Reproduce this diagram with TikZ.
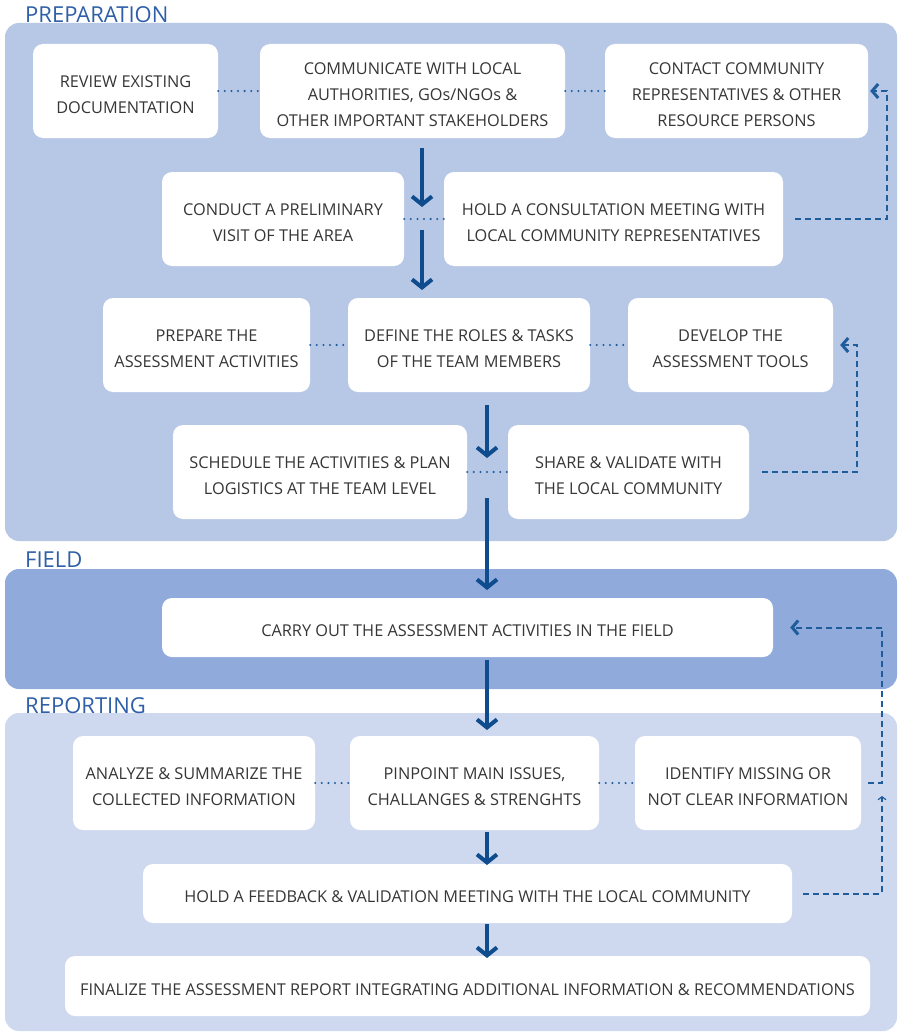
\documentclass[tikz,border=0pt]{standalone}
\usepackage{fontspec}
\setmainfont{Open Sans}
\usepackage{xcolor}
\usepackage{tikz}
\usetikzlibrary{arrows.meta}

\definecolor{prepfill}{HTML}{B7C7E6}
\definecolor{fieldfill}{HTML}{8FAADB}
\definecolor{reportfill}{HTML}{CED9EF}
\definecolor{phaseblue}{HTML}{2F5FA8}
\definecolor{flowblue}{HTML}{0E4C8E}
\definecolor{linkblue}{HTML}{1F5C9C}
\definecolor{textgray}{HTML}{363636}

\begin{document}
\begin{tikzpicture}[x=1pt, y=-1pt,
    task/.style={fill=white, rounded corners=10pt, inner sep=0pt, align=flush center, text=textgray,
      font=\fontsize{16.3}{26}\selectfont, minimum height=94pt,
      execute at begin node={\rule{0pt}{18.5pt}}},
    wd/.style={minimum width=#1, text width=#1},
    phase/.style={text=phaseblue, inner sep=0pt, anchor=base west, font=\fontsize{22}{22}\selectfont},
    flow/.style={draw=flowblue, line width=4pt, -{Straight Barb[length=8pt,width=20pt]}},
    link/.style={draw=linkblue, line width=2.3pt, line cap=round, dash pattern=on 0pt off 6.6pt},
    back/.style={draw=linkblue, line width=2pt, dash pattern=on 6pt off 4pt,
      -{Straight Barb[length=6pt,width=14pt,line width=3pt]}}]

  \useasboundingbox (0,0) rectangle (900,1033);

  % phases
  \fill[prepfill, rounded corners=14pt] (5,23) rectangle (897,541);
  \fill[fieldfill, rounded corners=14pt] (5,569) rectangle (897,689);
  \fill[reportfill, rounded corners=14pt] (5,713) rectangle (897,1031);
  \node[phase] (tprep) at (25,23) {PREPARATION};
  \node[phase] (tfield) at (25,567) {FIELD};
  \node[phase] (treport) at (25,713) {REPORTING};

  % preparation
  \node[task, wd=185pt] (review) at (125.5,91) {REVIEW EXISTING\\DOCUMENTATION};
  \node[task, wd=305pt] (comm) at (412.5,91) {COMMUNICATE WITH LOCAL\\AUTHORITIES, GOs/NGOs \&\\OTHER IMPORTANT STAKEHOLDERS};
  \node[task, wd=263pt] (contact) at (736.5,91) {CONTACT COMMUNITY\\REPRESENTATIVES \& OTHER\\RESOURCE PERSONS};
  \node[task, wd=242pt] (visit) at (283,219) {CONDUCT A PRELIMINARY\\VISIT OF THE AREA};
  \node[task, wd=339pt] (consult) at (613.5,219) {HOLD A CONSULTATION MEETING WITH\\LOCAL COMMUNITY REPRESENTATIVES};
  \node[task, wd=207pt] (prepare) at (206.5,345) {PREPARE THE\\ASSESSMENT ACTIVITIES};
  \node[task, wd=242pt] (roles) at (469,345) {DEFINE THE ROLES \& TASKS\\OF THE TEAM MEMBERS};
  \node[task, wd=205pt] (tools) at (730.5,345) {DEVELOP THE\\ASSESSMENT TOOLS};
  \node[task, wd=294pt] (schedule) at (320,472) {SCHEDULE THE ACTIVITIES \& PLAN\\LOGISTICS AT THE TEAM LEVEL};
  \node[task, wd=241pt] (share) at (628.5,472) {SHARE \& VALIDATE WITH\\THE LOCAL COMMUNITY};

  % field
  \node[task, wd=611pt, minimum height=59pt] (carry) at (467.5,627.5) {CARRY OUT THE ASSESSMENT ACTIVITIES IN THE FIELD};

  % reporting
  \node[task, wd=242pt] (analyze) at (194,783) {ANALYZE \& SUMMARIZE THE\\COLLECTED INFORMATION};
  \node[task, wd=249pt] (pinpoint) at (474.5,783) {PINPOINT MAIN ISSUES,\\CHALLANGES \& STRENGHTS};
  \node[task, wd=226pt] (missing) at (748,783) {IDENTIFY MISSING OR\\NOT CLEAR INFORMATION};
  \node[task, wd=649pt, minimum height=59pt] (feedback) at (467.5,893.5) {HOLD A FEEDBACK \& VALIDATION MEETING WITH THE LOCAL COMMUNITY};
  \node[task, wd=805pt, minimum height=60pt] (final) at (467.5,986) {FINALIZE THE ASSESSMENT REPORT INTEGRATING ADDITIONAL INFORMATION \& RECOMMENDATIONS};

  % dotted links
  \draw[link] (review) -- (comm);
  \draw[link] (comm) -- (contact);
  \draw[link] (visit) -- (consult);
  \draw[link] (prepare) -- (roles);
  \draw[link] (roles) -- (tools);
  \draw[link] (schedule) -- (share);
  \draw[link] (analyze) -- (pinpoint);
  \draw[link] (pinpoint) -- (missing);

  % main flow
  \coordinate (f1a) at (422,148); \coordinate (f1b) at (422,207);
  \coordinate (f2a) at (422,230); \coordinate (f2b) at (422,290);
  \coordinate (f3a) at (487,405); \coordinate (f3b) at (487,458);
  \coordinate (f4a) at (487,498); \coordinate (f4b) at (487,590);
  \coordinate (f5a) at (487,660); \coordinate (f5b) at (487,730);
  \coordinate (f6a) at (487,832); \coordinate (f6b) at (487,865);
  \coordinate (f7a) at (487,924); \coordinate (f7b) at (487,958);
  \draw[flow] (f1a) -- (f1b);
  \draw[flow] (f2a) -- (f2b);
  \draw[flow] (f3a) -- (f3b);
  \draw[flow] (f4a) -- (f4b);
  \draw[flow] (f5a) -- (f5b);
  \draw[flow] (f6a) -- (f6b);
  \draw[flow] (f7a) -- (f7b);

  % loops back
  \draw[back, shorten <=12pt, shorten >=2pt] (consult.east) -| ([xshift=19pt]contact.east) -- (contact.east);
  \draw[back, shorten <=13pt, shorten >=7pt] (share.east) -| ([xshift=24pt]tools.east) -- (tools.east);
  \draw[back, shorten <=7pt, shorten >=17pt] (missing.east) -| ([xshift=109pt]carry.east) -- (carry.east);
  \coordinate (fbup) at (882,796);
  \draw[back, shorten <=11pt, -{Straight Barb[length=3pt,width=8pt,line width=1.2pt]}] (feedback.east) -| (fbup);

\end{tikzpicture}
\end{document}
